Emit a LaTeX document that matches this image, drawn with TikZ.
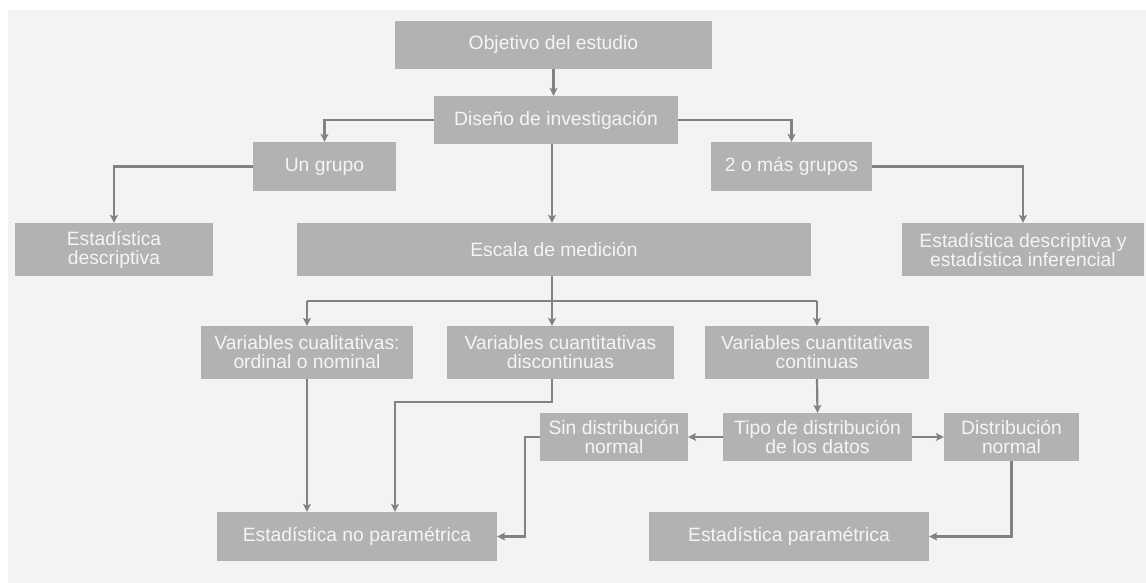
\documentclass[tikz,border=0pt]{standalone}
\usepackage{fontspec}
\setmainfont{Liberation Sans}
\usetikzlibrary{arrows.meta}
\definecolor{boxgray}{RGB}{178,178,178}
\definecolor{linegray}{RGB}{130,130,130}
\definecolor{backgray}{RGB}{243,243,243}

\begin{document}
\begin{tikzpicture}[x=1pt,y=-1pt,
  box/.style={fill=boxgray,text=white!96!black,align=center,inner sep=0pt,
    font=\fontsize{19.3}{19}\selectfont},
  link/.style={draw=linegray,line width=2.2pt,-{Stealth[length=8pt,width=8pt,inset=2pt]}},
  plain/.style={draw=linegray,line width=2.2pt}]
\useasboundingbox (0,0) rectangle (1146,583);
\fill[white] (0,0) rectangle (1146,583);
\fill[backgray] (8,10) rectangle (1146,583);
% boxes
\draw (553.5,45) node[box,minimum width=317,minimum height=48] (obj) {Objetivo del estudio};
\draw (556,120) node[box,minimum width=244,minimum height=48] (dis) {Diseño de investigación};
\draw (324.5,166.5) node[box,minimum width=143,minimum height=49] (uno) {Un grupo};
\draw (791.5,166.5) node[box,minimum width=161,minimum height=49] (dos) {2 o más grupos};
\draw (114,249.5) node[box,minimum width=198,minimum height=53] (desc) {Estadística\\descriptiva};
\draw (554,249.5) node[box,minimum width=514,minimum height=53] (esc) {Escala de medición};
\draw (1023,249.5) node[box,minimum width=242,minimum height=53] (descinf) {Estadística descriptiva y\\estadística inferencial};
\draw (307,352.5) node[box,minimum width=212,minimum height=53] (cual) {Variables cualitativas:\\ordinal o nominal};
\draw (560.5,352.5) node[box,minimum width=227,minimum height=53] (disc) {Variables cuantitativas\\discontinuas};
\draw (817,352.5) node[box,minimum width=224,minimum height=53] (cont) {Variables cuantitativas\\continuas};
\draw (614,437) node[box,minimum width=148,minimum height=48] (sin) {Sin distribución\\normal};
\draw (817.5,437) node[box,minimum width=189,minimum height=48] (tipo) {Tipo de distribución\\de los datos};
\draw (1011.5,437) node[box,minimum width=135,minimum height=48] (dnorm) {Distribución\\normal};
\draw (357,536.5) node[box,minimum width=280,minimum height=49] (nopar) {Estadística no paramétrica};
\draw (789,536.5) node[box,minimum width=280,minimum height=49] (par) {Estadística paramétrica};
% connectors
\coordinate (fork) at (552,301);
\coordinate (bend) at (395,402);
\coordinate (drop) at (525,437);
\draw[link] (obj.south) -- (obj.south |- dis.north);
\draw[link] (dis.west) -| (uno.north);
\draw[link] (dis.east) -| (dos.north);
\draw[link] (fork |- dis.south) -- (fork |- esc.north);
\draw[link] (uno.west) -| (desc.north);
\draw[link] (dos.east) -| (descinf.north);
\draw[plain] (fork |- esc.south) -- (fork);
\draw[plain] (cual.north |- fork) -- (cont.north |- fork);
\draw[link] (cual.north |- fork) -- (cual.north);
\draw[link] (fork) -- (fork |- disc.north);
\draw[link] (cont.north |- fork) -- (cont.north);
\draw[link] (cual.south) -- (cual.south |- nopar.north);
\draw[link] (fork |- disc.south) |- (bend) -- (bend |- nopar.north);
\draw[link] (cont.south) -- (tipo.north);
\draw[link] (tipo.west) -- (sin.east);
\draw[link] (tipo.east) -- (dnorm.west);
\draw[link] (sin.west) -- (drop) |- (nopar.east);
\draw[link] (dnorm.south) |- (par.east);
\end{tikzpicture}
\end{document}
